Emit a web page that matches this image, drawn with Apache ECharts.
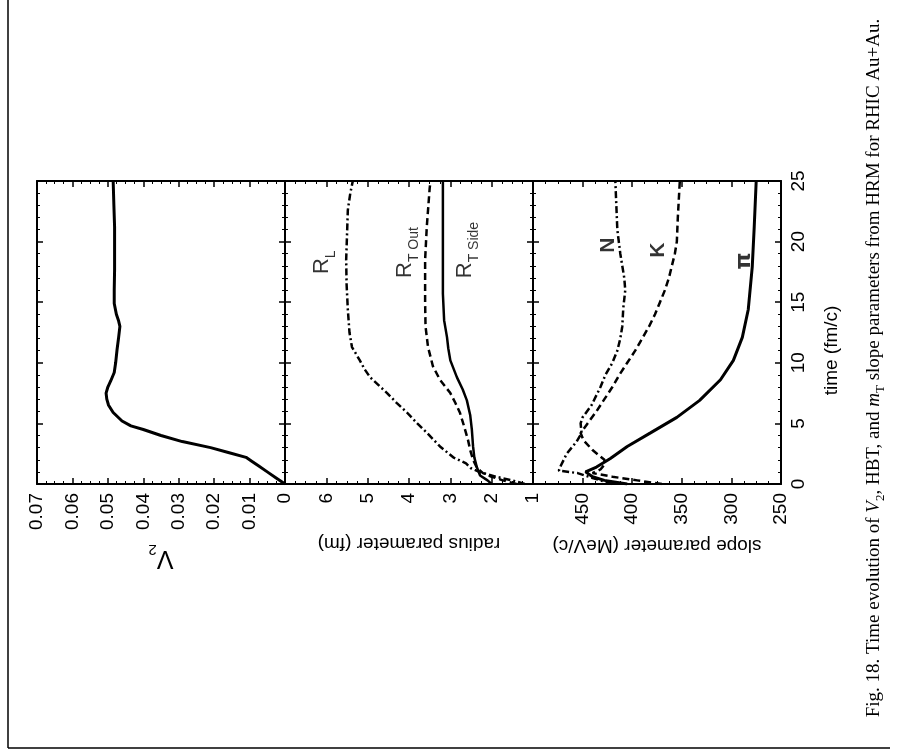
<!DOCTYPE html>
<html>
<head>
<meta charset="utf-8">
<script src="https://cdn.jsdelivr.net/npm/echarts@6/dist/echarts.min.js"></script>
<style>
  html, body { margin: 0; padding: 0; background: #fff; }
  #chart { width: 901px; height: 753px; }
</style>
</head>
<body>
<div id="chart"></div>
<script>
// ---- tick labels ----
const timeTickLabels = ['0', '5', '10', '15', '20', '25'];
const v2TickLabels = ['0', '0.01', '0.02', '0.03', '0.04', '0.05', '0.06', '0.07'];
const radiusTickLabels = ['1', '2', '3', '4', '5', '6', ''];
const slopeTickLabels = ['250', '300', '350', '400', '450', ''];

// ---- elliptic flow V2 : [time (fm/c), V2] ----
const v2Curve = [
  [0, 0], [0.5, 0.0025], [1.0, 0.005], [1.5, 0.0075], [1.9, 0.0095], [2.2, 0.011],
  [2.6, 0.016], [3.0, 0.021], [3.5, 0.029], [4.0, 0.035], [4.5, 0.040], [4.8, 0.0435],
  [5.2, 0.046], [5.9, 0.0485], [6.5, 0.0498], [7.0, 0.0503], [7.5, 0.0505], [8.0, 0.050],
  [8.5, 0.0492], [9.2, 0.0482], [10.0, 0.0478], [11.1, 0.0474], [12.0, 0.047], [13.0, 0.0466],
  [13.5, 0.047], [14.0, 0.0476], [14.9, 0.0482], [16.0, 0.0482], [17.7, 0.0481],
  [19.5, 0.0481], [21.2, 0.0481], [23.0, 0.0483], [25.0, 0.0485]
];

// ---- HBT radii (fm) : [time, radius] ----
const radiusL = [
  [0, 1.2], [0.3, 1.5], [0.6, 1.9], [1.0, 2.3], [1.3, 2.5], [1.7, 2.62], [2.2, 2.93],
  [3.1, 3.25], [4.2, 3.56], [5.0, 3.8], [5.9, 4.05], [6.7, 4.3], [7.5, 4.53], [8.2, 4.75],
  [8.8, 4.94], [9.5, 5.08], [10.2, 5.19], [11.3, 5.38], [12.5, 5.44], [14.4, 5.48],
  [16.5, 5.51], [18.5, 5.52], [20.5, 5.5], [22.6, 5.48], [24.0, 5.42], [25.0, 5.36]
];
const radiusTOut = [
  [0, 1.4], [0.3, 1.73], [0.6, 2.0], [0.9, 2.21], [1.3, 2.35], [2.0, 2.45], [2.8, 2.52],
  [3.6, 2.57], [4.8, 2.67], [5.9, 2.77], [6.7, 2.88], [7.5, 3.0], [8.6, 3.25], [9.7, 3.42],
  [11.3, 3.54], [13.0, 3.6], [15.0, 3.61], [18.5, 3.61], [21.2, 3.57], [24.4, 3.5], [25.0, 3.48]
];
const radiusTSide = [
  [0, 2.0], [0.3, 2.1], [0.7, 2.28], [1.4, 2.36], [2.2, 2.42], [3.1, 2.45], [4.5, 2.48],
  [5.7, 2.52], [6.9, 2.6], [7.8, 2.7], [8.8, 2.84], [10.2, 3.0], [11.2, 3.05], [12.1, 3.08],
  [13.5, 3.15], [15.7, 3.18], [20.0, 3.18], [25.0, 3.18]
];

// ---- mT slope parameters (MeV/c) : [time, slope] ----
const slopeN = [
  [0, 420], [0.5, 440], [0.9, 455], [1.1, 474], [1.5, 472], [2.5, 466], [3.5, 456],
  [4.2, 451], [5.0, 452], [5.5, 450], [6.5, 441], [8.0, 432], [9.0, 427], [10.0, 420],
  [11.0, 415], [12.0, 412], [13.0, 410], [14.5, 409], [16.0, 407], [17.0, 408],
  [19.0, 412], [21.0, 415], [23.0, 416], [25.0, 417]
];
const slopeK = [
  [0, 370], [0.3, 395], [0.6, 420], [0.9, 440], [1.2, 432], [1.6, 428], [2.0, 428],
  [2.8, 440], [3.6, 449], [4.2, 452], [5.0, 445], [6.0, 436], [7.0, 428], [8.0, 420],
  [9.0, 413], [10.0, 405], [11.0, 397], [12.0, 390], [13.0, 383], [14.0, 377], [15.0, 372],
  [16.0, 367], [17.0, 363], [18.0, 360], [19.0, 357], [20.0, 355], [22.0, 354], [25.0, 352]
];
const slopePi = [
  [0, 405], [0.3, 428], [0.6, 440], [1.0, 447], [1.4, 436], [2.1, 422], [3.1, 405],
  [4.2, 382], [5.5, 355], [6.9, 332], [8.6, 311], [10.2, 298], [12.1, 289], [14.4, 283],
  [17.9, 279], [21.2, 277], [25.0, 275]
];

// ---- curve labels : [time, value, text] ----
const radiusNotes = [
  [18.3, 6.1, '{m|R}{s|L}'],
  [19.1, 4.1, '{m|R}{s|T Out}'],
  [19.3, 2.65, '{m|R}{s|T Side}']
];
const slopeNotes = [
  [19.7, 424, '{b|N}'],
  [19.3, 374, '{b|K}'],
  [18.4, 287, '{p|π}']
];

const FONT = 'Liberation Sans';
const INK = '#000';

// value pairs are stored as [time, value]; the value runs along x here
const flip = arr => arr.map(p => [p[1], p[0]]);

function timeAxis(gridIndex, position, withLabels) {
  return {
    type: 'value', gridIndex, position, min: 0, max: 25, interval: 5,
    axisLine: { show: true, onZero: false, lineStyle: { color: INK, width: 2 } },
    axisTick: { show: true, inside: true, length: 6, lineStyle: { color: INK, width: 1.5 } },
    minorTick: { show: true, splitNumber: 5, length: 3, lineStyle: { color: INK, width: 1 } },
    splitLine: { show: false },
    axisLabel: {
      show: withLabels, rotate: 90, margin: 8, color: INK, fontFamily: FONT, fontSize: 19,
      formatter: v => timeTickLabels[Math.round(v / 5)]
    },
    name: withLabels ? 'time (fm/c)' : '',
    nameLocation: 'middle', nameRotate: 90, nameGap: 41,
    nameTextStyle: { color: INK, fontFamily: FONT, fontSize: 19, padding: [0, 36, 0, 0] }
  };
}

function valueAxis(gridIndex, position, cfg, withLabels) {
  return {
    type: 'value', gridIndex, position, min: cfg.min, max: cfg.max, interval: cfg.interval,
    inverse: cfg.inverse,
    axisLine: { show: true, onZero: false, lineStyle: { color: INK, width: 2 } },
    axisTick: { show: true, inside: true, length: 6, lineStyle: { color: INK, width: 1.5 } },
    minorTick: { show: true, splitNumber: 4, length: 3, lineStyle: { color: INK, width: 1 } },
    splitLine: { show: false },
    axisLabel: {
      show: withLabels, rotate: 90, margin: 9, color: INK, fontFamily: FONT, fontSize: 19,
      formatter: cfg.formatter
    },
    name: withLabels ? cfg.name : '',
    nameLocation: 'middle', nameRotate: 180, nameGap: cfg.nameGap,
    nameTextStyle: {
      color: INK, fontFamily: FONT, fontSize: 19,
      rich: {
        v: { fontFamily: FONT, fontSize: 25, color: INK, lineHeight: 32 },
        s: { fontFamily: FONT, fontSize: 15, color: INK, lineHeight: 15, verticalAlign: 'bottom' }
      }
    }
  };
}

const v2Cfg = {
  min: 0, max: 0.07, interval: 0.01, inverse: true, name: '{v|V}{s|2}', nameGap: 58,
  formatter: v => v2TickLabels[Math.round(v * 100)]
};
const radiusCfg = {
  min: 1, max: 7, interval: 1, inverse: true, name: 'radius parameter (fm)', nameGap: 50,
  formatter: v => radiusTickLabels[Math.round(v) - 1]
};
const slopeCfg = {
  min: 250, max: 500, interval: 50, inverse: true, name: 'slope parameter (MeV/c)', nameGap: 52,
  formatter: v => slopeTickLabels[Math.round((v - 250) / 50)]
};

function curve(name, data, xAxisIndex, yAxisIndex, width, type) {
  return {
    name, type: 'line', data: flip(data), xAxisIndex, yAxisIndex,
    showSymbol: false, symbol: 'none', smooth: false, silent: true,
    lineStyle: { color: INK, width, type }
  };
}

const noteRich = {
  m: { fontFamily: FONT, fontSize: 22, color: INK, lineHeight: 32 },
  s: { fontFamily: FONT, fontSize: 14, color: INK, lineHeight: 14, verticalAlign: 'bottom' },
  b: { fontFamily: FONT, fontSize: 21, fontWeight: 'bold', color: INK },
  p: { fontFamily: 'DejaVu Sans', fontSize: 22, fontWeight: 'bold', color: INK }
};

function notes(data, xAxisIndex, yAxisIndex) {
  return {
    type: 'scatter', xAxisIndex, yAxisIndex, silent: true,
    symbol: 'circle', symbolSize: 1, itemStyle: { color: 'rgba(0,0,0,0)' },
    data: data.map(d => ({ value: [d[1], d[0]], label: { formatter: d[2] } })),
    label: { show: true, position: 'inside', rotate: 90, rich: noteRich, color: INK }
  };
}

const grids = [
  { left: 37, top: 181, width: 248, height: 303 },
  { left: 285, top: 181, width: 248, height: 303 },
  { left: 533, top: 181, width: 248, height: 303 }
].map(g => Object.assign({ containLabel: false, outerBoundsMode: 'none' }, g));

const caption = 'Fig. 18. Time evolution of {i|V}{sub|2}, HBT, and {i|m}{sub|T} slope parameters from HRM for RHIC Au+Au.';

const option = {
  animation: false,
  backgroundColor: '#fff',
  grid: grids,
  xAxis: [
    valueAxis(0, 'bottom', v2Cfg, true), valueAxis(0, 'top', v2Cfg, false),
    valueAxis(1, 'bottom', radiusCfg, true), valueAxis(1, 'top', radiusCfg, false),
    valueAxis(2, 'bottom', slopeCfg, true), valueAxis(2, 'top', slopeCfg, false)
  ],
  yAxis: [
    timeAxis(0, 'left', false), timeAxis(0, 'right', false),
    timeAxis(1, 'left', false), timeAxis(1, 'right', false),
    timeAxis(2, 'left', false), timeAxis(2, 'right', true)
  ],
  series: [
    curve('V2', v2Curve, 0, 0, 3, 'solid'),
    curve('R_L', radiusL, 2, 2, 2.5, [7, 3, 2, 3]),
    curve('R_T Out', radiusTOut, 2, 2, 2.5, [7, 4]),
    curve('R_T Side', radiusTSide, 2, 2, 2.5, 'solid'),
    curve('N', slopeN, 4, 4, 2.5, [7, 3, 2, 3]),
    curve('K', slopeK, 4, 4, 2.5, [7, 4]),
    curve('pi', slopePi, 4, 4, 3, 'solid'),
    notes(radiusNotes, 2, 2),
    notes(slopeNotes, 4, 4)
  ],
  graphic: [
    { type: 'line', shape: { x1: 8, y1: 0, x2: 8, y2: 748 }, style: { stroke: INK, lineWidth: 1.5 } },
    { type: 'line', shape: { x1: 8, y1: 748, x2: 890, y2: 748 }, style: { stroke: INK, lineWidth: 1.5 } },
    {
      type: 'text', x: 874, y: 368, rotation: Math.PI / 2,
      style: {
        text: caption, fill: INK, fontFamily: 'Liberation Serif', fontSize: 19,
        align: 'center', verticalAlign: 'middle',
        rich: {
          i: { fontFamily: 'Liberation Serif', fontStyle: 'italic', fontSize: 19, fill: INK, lineHeight: 26 },
          sub: { fontFamily: 'Liberation Serif', fontSize: 13, fill: INK, lineHeight: 13, verticalAlign: 'bottom' }
        }
      }
    }
  ]
};

const chart = echarts.init(document.getElementById('chart'), null, { renderer: 'canvas' });
chart.setOption(option);
</script>
</body>
</html>
